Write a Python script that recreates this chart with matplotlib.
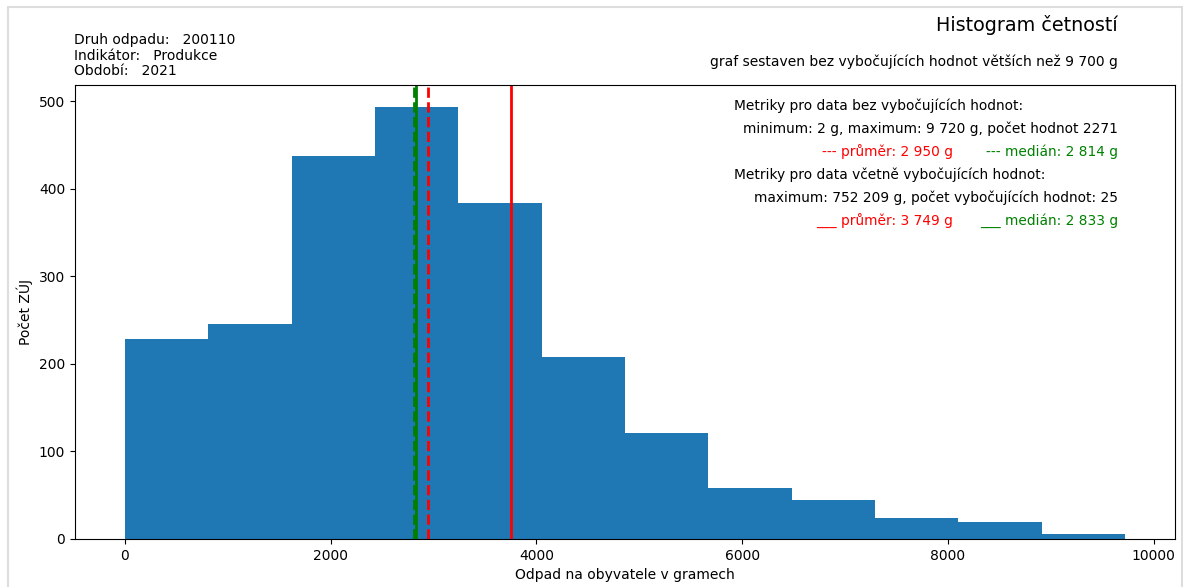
import numpy as np
import matplotlib
matplotlib.use('Agg')
import matplotlib.pyplot as plt
from matplotlib.patches import Rectangle

# histogram data (12 bins between min and max value)
min_value = 2
max_value = 9720
counts = [228, 246, 438, 494, 384, 208, 121, 58, 45, 24, 19, 6]

mean_no_outliers = 2950
median_no_outliers = 2814
mean_all = 3749
median_all = 2833


def main():
    fig = plt.figure(figsize=(11.83, 5.87), dpi=100)
    ax = fig.add_axes([0.0634, 0.0818, 0.9298, 0.7732])

    edges = np.linspace(min_value, max_value, len(counts) + 1)
    ax.hist(edges[:-1], bins=edges, weights=counts, color='#1f77b4')

    ax.axvline(mean_all, color='red', lw=2)
    ax.axvline(median_all, color='green', lw=2)
    ax.axvline(mean_no_outliers, color='red', lw=2, ls='--')
    ax.axvline(median_no_outliers, color='green', lw=2, ls='--')

    ax.set_xlabel('Odpad na obyvatele v gramech', fontsize=10)
    ax.set_ylabel('Počet ZÚJ', fontsize=10)

    # header texts
    fig.text(74 / 1183, 1 - 40 / 587, 'Druh odpadu:   200110', fontsize=10, va='center')
    fig.text(74 / 1183, 1 - 56 / 587, 'Indikátor:   Produkce', fontsize=10, va='center')
    fig.text(74 / 1183, 1 - 71 / 587, 'Období:   2021', fontsize=10, va='center')
    fig.text(1118 / 1183, 1 - 25 / 587, 'Histogram četností', fontsize=13.8, ha='right', va='center')
    fig.text(1118 / 1183, 1 - 62 / 587, 'graf sestaven bez vybočujících hodnot větších než 9 700 g',
             fontsize=10, ha='right', va='center')

    # metrics
    xr = 1118 / 1183
    xl = 734 / 1183
    xm = 953 / 1183
    fs = 9.9
    fig.text(xl, 1 - 106 / 587, 'Metriky pro data bez vybočujících hodnot:', fontsize=fs, va='center')
    fig.text(xr, 1 - 129 / 587, 'minimum: 2 g, maximum: 9 720 g, počet hodnot 2271',
             fontsize=fs, ha='right', va='center')
    fig.text(xm, 1 - 152 / 587, '--- průměr: 2 950 g', fontsize=fs, ha='right', va='center', color='red')
    fig.text(xr, 1 - 152 / 587, '--- medián: 2 814 g', fontsize=fs, ha='right', va='center', color='green')
    fig.text(xl, 1 - 175 / 587, 'Metriky pro data včetně vybočujících hodnot:', fontsize=fs, va='center')
    fig.text(xr, 1 - 198 / 587, 'maximum: 752 209 g, počet vybočujících hodnot: 25',
             fontsize=fs, ha='right', va='center')
    fig.text(xm, 1 - 221 / 587, '___ průměr: 3 749 g', fontsize=fs, ha='right', va='center', color='red')
    fig.text(xr, 1 - 221 / 587, '___ medián: 2 833 g', fontsize=fs, ha='right', va='center', color='green')

    # light frame around the figure
    fig.add_artist(Rectangle((8 / 1183, -0.05), 1174 / 1183, 1.05 - 7 / 587, transform=fig.transFigure,
                             fill=False, edgecolor='#dddddd', lw=1.5))

    fig.savefig('out.png', dpi=100)


if __name__ == '__main__':
    main()
